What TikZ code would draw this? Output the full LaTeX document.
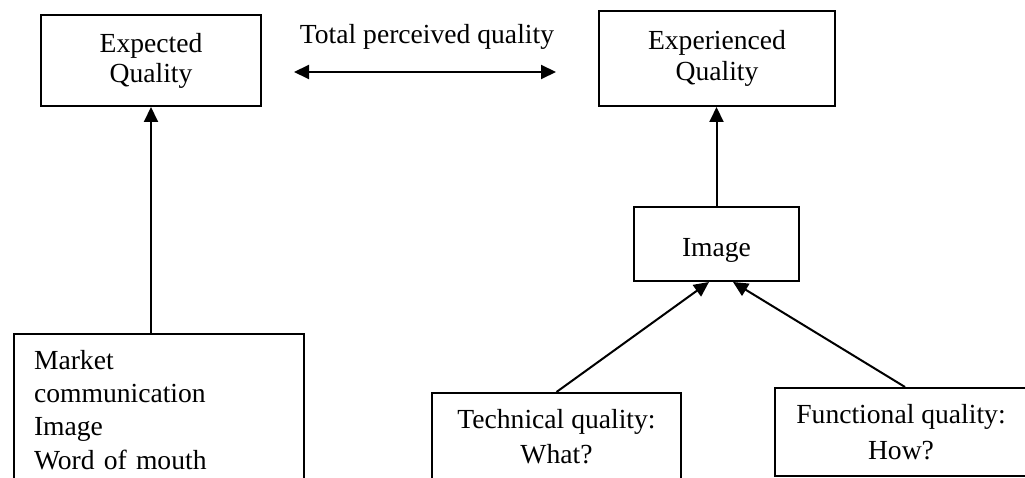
\documentclass[tikz,border=0pt]{standalone}
\usepackage{fontspec}
\setmainfont{Liberation Serif}
\usetikzlibrary{arrows.meta,calc}
\begin{document}
\begin{tikzpicture}[x=1pt,y=-1pt,
  box/.style={draw, line width=2pt, inner xsep=10pt, inner ysep=16pt, align=center},
  fs/.style={font=\fontsize{27.6pt}{#1pt}\selectfont},
  arr/.style={-{Triangle[length=15pt,width=14pt]}, line width=2pt},
  dbl/.style={{Triangle[length=15pt,width=14pt]}-{Triangle[length=15pt,width=14pt]}, line width=2pt}]
\path[use as bounding box] (0,0) rectangle (1025,478);
\clip (0,0) rectangle (1025,478);
% top boxes
\node[box, fs=30, minimum width=220pt, minimum height=91pt] (expq) at (151,60.5) {Expected\\Quality};
\node[box, fs=31, minimum width=236pt, minimum height=95pt] (expr) at (717,58.5) {Experienced\\Quality};
\node[fs=30, anchor=base, inner sep=0pt] (tpq) at (427,44) {Total perceived quality};
\coordinate (la) at (294,72);
\coordinate (ra) at (556,72);
\draw[dbl] (la) -- (ra);
% image box
\node[box, fs=30, minimum width=165pt, minimum height=74pt, text height=26pt, text depth=0pt] (img) at (716.5,244) {Image};
% bottom boxes
\node[box, fs=33.3, anchor=north west, inner xsep=20pt, text width=250pt, align=left] (mkt) at (13,333)
  {Market\\communication\\Image\\Word of mouth\rule[-70pt]{0pt}{1pt}};
\node[box, fs=35, anchor=north, minimum width=249pt] (tech) at (556.5,392) {Technical quality:\\What?\rule[-60pt]{0pt}{1pt}};
\node[box, fs=36, anchor=north, minimum width=252pt] (func) at (901,387) {Functional quality:\\How?};
% connectors
\draw[arr] (mkt.north -| expq.south) -- (expq.south);
\draw[arr] (img.north) -- (img.north |- expr.south);
\draw[arr] (tech.north) -- ($(img.south)+(-7.5,0)$);
\draw[arr] ($(func.north)+(4,0)$) -- ($(img.south)+(16.5,0)$);
\end{tikzpicture}
\end{document}
